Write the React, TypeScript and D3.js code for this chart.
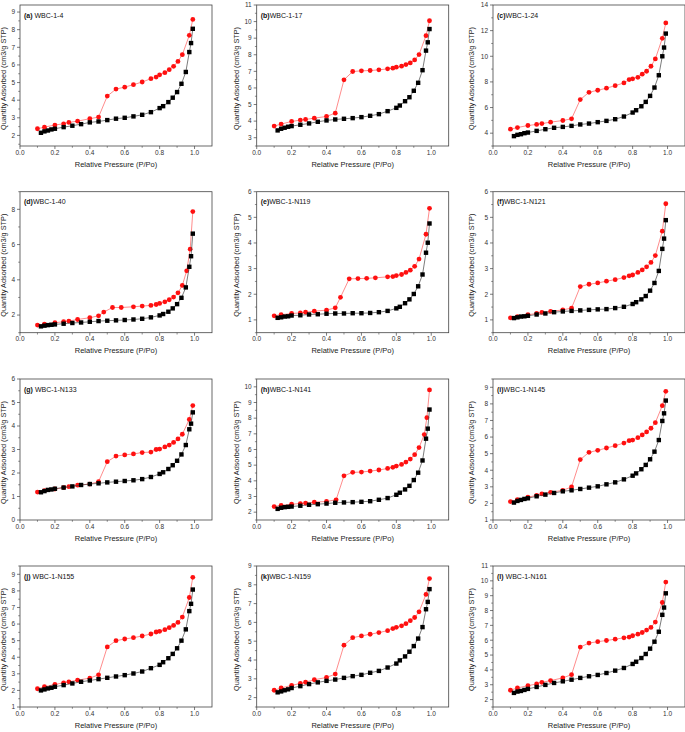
import React, { useRef, useEffect } from 'react';
import * as d3 from 'd3';

// relative pressure points (P/Po)
const ADS_X = [0.12, 0.14, 0.16, 0.18, 0.2, 0.25, 0.3, 0.35, 0.4, 0.45, 0.5, 0.55, 0.6, 0.65, 0.7, 0.75, 0.8, 0.82, 0.85, 0.875, 0.9, 0.925, 0.95, 0.97, 0.98, 0.99];
const DES_X = [0.1, 0.14, 0.2, 0.25, 0.28, 0.33, 0.4, 0.45, 0.5, 0.55, 0.6, 0.65, 0.7, 0.75, 0.78, 0.8, 0.83, 0.855, 0.88, 0.905, 0.93, 0.97, 0.99];
const DES_X_D = [0.1, 0.14, 0.2, 0.25, 0.28, 0.33, 0.4, 0.45, 0.48, 0.53, 0.58, 0.65, 0.7, 0.75, 0.78, 0.8, 0.83, 0.855, 0.88, 0.905, 0.93, 0.955, 0.975, 0.99];
const DES_X_E = [0.1, 0.14, 0.2, 0.25, 0.28, 0.33, 0.4, 0.45, 0.48, 0.53, 0.58, 0.63, 0.68, 0.75, 0.78, 0.8, 0.83, 0.855, 0.88, 0.905, 0.93, 0.97, 0.99];
const DES_X_H = [0.1, 0.14, 0.2, 0.25, 0.28, 0.33, 0.4, 0.455, 0.5, 0.55, 0.6, 0.65, 0.7, 0.75, 0.78, 0.8, 0.83, 0.855, 0.88, 0.905, 0.93, 0.96, 0.975, 0.99];

const TAGS = ['(a)', '(b)', '(c)', '(d)', '(e)', '(f)', '(g)', '(h)', '(i)', '(j)', '(k)', '(l)'];
const NAMES = [' WBC-1-4', 'WBC-1-17', 'WBC-1-24', 'WBC-1-40', 'WBC-1-N119', 'WBC-1-N121', ' WBC-1-N133', 'WBC-1-N141', 'WBC-1-N145', ' WBC-1-N155', 'WBC-1-N159', ' WBC-1-N161'];

// adsorption (black squares)
const ADS_A = [2.15, 2.23, 2.28, 2.34, 2.38, 2.47, 2.55, 2.64, 2.74, 2.79, 2.87, 2.95, 3.0, 3.08, 3.17, 3.32, 3.55, 3.66, 3.89, 4.14, 4.46, 4.93, 5.6, 6.73, 7.24, 8.05];
const ADS_B = [3.44, 3.54, 3.6, 3.66, 3.7, 3.78, 3.86, 3.96, 4.04, 4.1, 4.14, 4.18, 4.24, 4.32, 4.42, 4.6, 4.8, 4.94, 5.2, 5.44, 5.83, 6.31, 7.07, 8.25, 8.75, 9.55];
const ADS_C = [3.77, 3.87, 3.92, 4.0, 4.05, 4.18, 4.31, 4.42, 4.49, 4.57, 4.68, 4.75, 4.86, 4.96, 5.09, 5.3, 5.61, 5.79, 6.1, 6.44, 6.91, 7.56, 8.52, 10.0, 10.68, 11.77];
const ADS_D = [1.36, 1.4, 1.43, 1.45, 1.47, 1.51, 1.55, 1.58, 1.62, 1.66, 1.68, 1.7, 1.72, 1.75, 1.79, 1.87, 1.98, 2.06, 2.19, 2.38, 2.62, 2.98, 3.57, 4.74, 5.34, 6.62];
const ADS_E = [1.08, 1.1, 1.13, 1.14, 1.17, 1.18, 1.21, 1.22, 1.24, 1.25, 1.25, 1.26, 1.26, 1.27, 1.3, 1.35, 1.45, 1.51, 1.65, 1.8, 2.01, 2.31, 2.77, 3.62, 4.01, 4.76];
const ADS_F = [1.07, 1.1, 1.13, 1.14, 1.16, 1.21, 1.25, 1.3, 1.33, 1.35, 1.37, 1.39, 1.41, 1.42, 1.46, 1.51, 1.62, 1.69, 1.8, 1.93, 2.14, 2.44, 2.91, 3.77, 4.17, 4.89];
const ADS_G = [1.18, 1.23, 1.28, 1.3, 1.33, 1.38, 1.43, 1.49, 1.53, 1.56, 1.6, 1.63, 1.66, 1.69, 1.74, 1.83, 1.96, 2.03, 2.17, 2.33, 2.52, 2.79, 3.19, 3.86, 4.1, 4.58];
const ADS_H = [2.21, 2.28, 2.32, 2.34, 2.36, 2.41, 2.47, 2.51, 2.55, 2.6, 2.62, 2.64, 2.66, 2.7, 2.79, 2.9, 3.11, 3.24, 3.45, 3.68, 4.05, 4.52, 5.3, 6.69, 7.33, 8.55];
const ADS_I = [2.05, 2.15, 2.21, 2.27, 2.31, 2.43, 2.53, 2.63, 2.73, 2.79, 2.87, 2.95, 3.03, 3.15, 3.27, 3.45, 3.67, 3.81, 4.06, 4.32, 4.66, 5.12, 5.82, 6.97, 7.43, 8.2];
const ADS_J = [2.0, 2.06, 2.12, 2.16, 2.22, 2.32, 2.42, 2.52, 2.6, 2.68, 2.76, 2.84, 2.92, 3.02, 3.14, 3.34, 3.54, 3.7, 3.94, 4.2, 4.54, 5.0, 5.68, 6.78, 7.22, 8.08];
const ADS_K = [2.28, 2.33, 2.39, 2.44, 2.51, 2.61, 2.72, 2.81, 2.89, 2.96, 3.05, 3.14, 3.21, 3.32, 3.42, 3.6, 3.81, 3.98, 4.19, 4.44, 4.74, 5.14, 5.75, 6.7, 7.09, 7.77];
const ADS_L = [2.45, 2.54, 2.58, 2.65, 2.72, 2.85, 2.99, 3.12, 3.23, 3.34, 3.46, 3.57, 3.66, 3.79, 3.95, 4.13, 4.4, 4.55, 4.8, 5.07, 5.43, 5.9, 6.57, 7.71, 8.2, 9.16];

// desorption (red circles)
const DES_A = [2.38, 2.47, 2.59, 2.66, 2.74, 2.81, 2.95, 3.04, 4.23, 4.63, 4.74, 4.88, 5.03, 5.22, 5.31, 5.44, 5.56, 5.73, 5.92, 6.2, 6.58, 7.68, 8.58];
const DES_B = [3.7, 3.82, 3.98, 4.06, 4.1, 4.18, 4.28, 4.48, 6.49, 6.99, 7.03, 7.05, 7.09, 7.15, 7.19, 7.25, 7.31, 7.41, 7.51, 7.69, 8.01, 9.15, 10.05];
const DES_C = [4.31, 4.44, 4.6, 4.68, 4.75, 4.86, 4.99, 5.12, 6.62, 7.19, 7.35, 7.51, 7.71, 7.92, 8.18, 8.24, 8.36, 8.6, 8.83, 9.22, 9.79, 11.4, 12.6];
const DES_D = [1.43, 1.49, 1.57, 1.62, 1.66, 1.75, 1.85, 1.96, 2.17, 2.43, 2.43, 2.47, 2.51, 2.55, 2.6, 2.66, 2.75, 2.87, 3.02, 3.26, 3.68, 4.51, 5.74, 7.87];
const DES_E = [1.16, 1.2, 1.25, 1.27, 1.3, 1.34, 1.38, 1.47, 1.88, 2.6, 2.61, 2.62, 2.64, 2.68, 2.69, 2.73, 2.77, 2.85, 2.94, 3.09, 3.37, 4.34, 5.35];
const DES_F = [1.08, 1.13, 1.2, 1.25, 1.29, 1.33, 1.39, 1.46, 2.3, 2.39, 2.44, 2.51, 2.57, 2.65, 2.72, 2.75, 2.85, 2.95, 3.07, 3.24, 3.51, 4.46, 5.53];
const DES_G = [1.19, 1.25, 1.32, 1.38, 1.42, 1.48, 1.53, 1.63, 2.48, 2.72, 2.77, 2.81, 2.87, 2.89, 3.0, 3.02, 3.11, 3.19, 3.3, 3.45, 3.65, 4.28, 4.87];
const DES_H = [2.36, 2.43, 2.51, 2.55, 2.58, 2.64, 2.68, 2.79, 4.32, 4.54, 4.56, 4.62, 4.69, 4.79, 4.86, 4.94, 5.05, 5.2, 5.39, 5.67, 6.12, 6.95, 8.03, 9.8];
const DES_I = [2.11, 2.23, 2.37, 2.49, 2.57, 2.67, 2.79, 2.99, 4.64, 5.08, 5.2, 5.34, 5.48, 5.64, 5.78, 5.82, 5.96, 6.13, 6.31, 6.53, 6.87, 7.89, 8.76];
const DES_J = [2.1, 2.22, 2.36, 2.46, 2.52, 2.62, 2.74, 2.94, 4.62, 5.0, 5.1, 5.18, 5.28, 5.4, 5.52, 5.56, 5.66, 5.78, 5.92, 6.1, 6.42, 7.6, 8.82];
const DES_K = [2.39, 2.51, 2.65, 2.75, 2.82, 2.95, 3.07, 3.25, 4.79, 5.19, 5.28, 5.37, 5.46, 5.56, 5.67, 5.74, 5.82, 5.93, 6.09, 6.26, 6.56, 7.49, 8.33];
const DES_L = [2.63, 2.78, 2.94, 3.05, 3.16, 3.28, 3.46, 3.68, 5.54, 5.81, 5.9, 5.98, 6.07, 6.16, 6.21, 6.3, 6.41, 6.52, 6.68, 6.86, 7.22, 8.54, 9.92];

const ADS = [ADS_A, ADS_B, ADS_C, ADS_D, ADS_E, ADS_F, ADS_G, ADS_H, ADS_I, ADS_J, ADS_K, ADS_L];
const DES = [DES_A, DES_B, DES_C, DES_D, DES_E, DES_F, DES_G, DES_H, DES_I, DES_J, DES_K, DES_L];
const DES_XS = [DES_X, DES_X, DES_X, DES_X_D, DES_X_E, DES_X, DES_X, DES_X_H, DES_X, DES_X, DES_X, DES_X];

// y axis ranges and label step for each panel
const Y_DOMAINS = [[1.4, 9.4], [2.5, 11], [3, 14], [1, 9], [0.5, 6], [0.5, 6], [0, 6], [1.5, 10.5], [1, 9.5], [1, 9.5], [1.5, 9], [1.5, 11]];
const Y_FIRST = [2, 3, 4, 2, 1, 1, 0, 2, 1, 1, 2, 2];
const Y_STEP = [1, 1, 2, 2, 1, 1, 1, 1, 1, 1, 1, 1];
const X_TICKS = [0, 0.2, 0.4, 0.6, 0.8, 1.0];

const X_TITLE = 'Relative Pressure (P/Po)';
const Y_TITLE = 'Quantity Adsorbed (cm3/g STP)';

const COL_LEFT = [20, 256.7, 493];
const TITLE_OFF = [14.5, 18, 19.5];
const ROW_TOP = [5, 191.7, 379, 566];
const PW = 192;
const PH = 141;
const FONT = 'Liberation Sans, Arial, sans-serif';

const App = () => {
  const ref = useRef<SVGSVGElement | null>(null);

  useEffect(() => {
    const svg = d3.select(ref.current);
    svg.selectAll('*').remove();

    TAGS.forEach((tag, i) => {
      const col = i % 3;
      const left = COL_LEFT[col];
      const top = ROW_TOP[Math.floor(i / 3)];
      const x = d3.scaleLinear().domain([0, 1.1]).range([left, left + PW]);
      const y = d3.scaleLinear().domain(Y_DOMAINS[i]).range([top + PH, top]);
      const g = svg.append('g');

      // frame
      g.append('rect')
        .attr('x', left).attr('y', top).attr('width', PW).attr('height', PH)
        .attr('fill', 'none').attr('stroke', '#444').attr('stroke-width', 0.8);

      // x axis
      const xMinor = d3.range(0.1, 1.1, 0.2);
      g.selectAll('.xt').data(X_TICKS).join('line')
        .attr('x1', (d) => x(d)).attr('x2', (d) => x(d))
        .attr('y1', top + PH).attr('y2', top + PH + 3)
        .attr('stroke', '#444').attr('stroke-width', 0.7);
      g.selectAll('.xm').data(xMinor).join('line')
        .attr('x1', (d) => x(d)).attr('x2', (d) => x(d))
        .attr('y1', top + PH).attr('y2', top + PH + 1.8)
        .attr('stroke', '#444').attr('stroke-width', 0.6);
      g.selectAll('.xl').data(X_TICKS).join('text')
        .attr('x', (d) => x(d)).attr('y', top + PH + 8.5)
        .attr('text-anchor', 'middle')
        .attr('font-family', FONT).attr('font-size', 6.5).attr('fill', '#333')
        .text((d) => d3.format('.1f')(d));
      g.append('text')
        .attr('x', x(0.55)).attr('y', top + PH + 20.5)
        .attr('text-anchor', 'middle')
        .attr('font-family', FONT).attr('font-size', 7.5).attr('fill', '#222')
        .text(X_TITLE);

      // y axis
      const [y0, y1] = Y_DOMAINS[i];
      const yTicks = d3.range(Y_FIRST[i], y1 + 1e-6, Y_STEP[i]);
      const half = Y_STEP[i] / 2;
      const yMinor = d3.range(Y_FIRST[i] - half, y1 + 1e-6, Y_STEP[i]).filter((v) => v >= y0);
      g.selectAll('.yt').data(yTicks).join('line')
        .attr('x1', left - 3).attr('x2', left)
        .attr('y1', (d) => y(d)).attr('y2', (d) => y(d))
        .attr('stroke', '#444').attr('stroke-width', 0.7);
      g.selectAll('.ym').data(yMinor).join('line')
        .attr('x1', left - 1.8).attr('x2', left)
        .attr('y1', (d) => y(d)).attr('y2', (d) => y(d))
        .attr('stroke', '#444').attr('stroke-width', 0.6);
      g.selectAll('.yl').data(yTicks).join('text')
        .attr('x', left - 5).attr('y', (d) => y(d) + 2.3)
        .attr('text-anchor', 'end')
        .attr('font-family', FONT).attr('font-size', 6.5).attr('fill', '#333')
        .text((d) => d);
      const tx = left - TITLE_OFF[col];
      const ty = top + PH / 2 + 3;
      g.append('text')
        .attr('transform', `translate(${tx},${ty}) rotate(-90)`)
        .attr('text-anchor', 'middle')
        .attr('font-family', FONT).attr('font-size', 7.3).attr('fill', '#222')
        .text(Y_TITLE);

      // panel label
      const lab = g.append('text')
        .attr('x', left + 4).attr('y', top + 12.5)
        .attr('font-family', FONT).attr('font-size', 7).attr('fill', '#111');
      lab.append('tspan').attr('font-weight', 'bold').text(tag);
      lab.append('tspan').attr('xml:space', 'preserve').text(NAMES[i]);

      const line = d3.line<[number, number]>().x((d) => x(d[0])).y((d) => y(d[1]));
      const ads = ADS_X.map((p, k) => [p, ADS[i][k]] as [number, number]);
      const des = DES_XS[i].map((p, k) => [p, DES[i][k]] as [number, number]);

      // desorption branch
      g.append('path').datum(des).attr('d', line)
        .attr('fill', 'none').attr('stroke', '#ff5a5a').attr('stroke-width', 0.7);
      g.selectAll('.dc').data(des).join('circle')
        .attr('cx', (d) => x(d[0])).attr('cy', (d) => y(d[1])).attr('r', 2.4)
        .attr('fill', '#ff1010');

      // adsorption branch
      g.append('path').datum(ads).attr('d', line)
        .attr('fill', 'none').attr('stroke', '#444').attr('stroke-width', 0.7);
      const s = 4.4;
      g.selectAll('.as').data(ads).join('rect')
        .attr('x', (d) => x(d[0]) - s / 2).attr('y', (d) => y(d[1]) - s / 2)
        .attr('width', s).attr('height', s)
        .attr('fill', '#000');
    });
  }, []);

  return (
    <svg
      ref={ref}
      width={685}
      height={732}
      style={{ position: 'absolute', left: 0, top: 0, background: '#fff' }}
    />
  );
};

export default App;
